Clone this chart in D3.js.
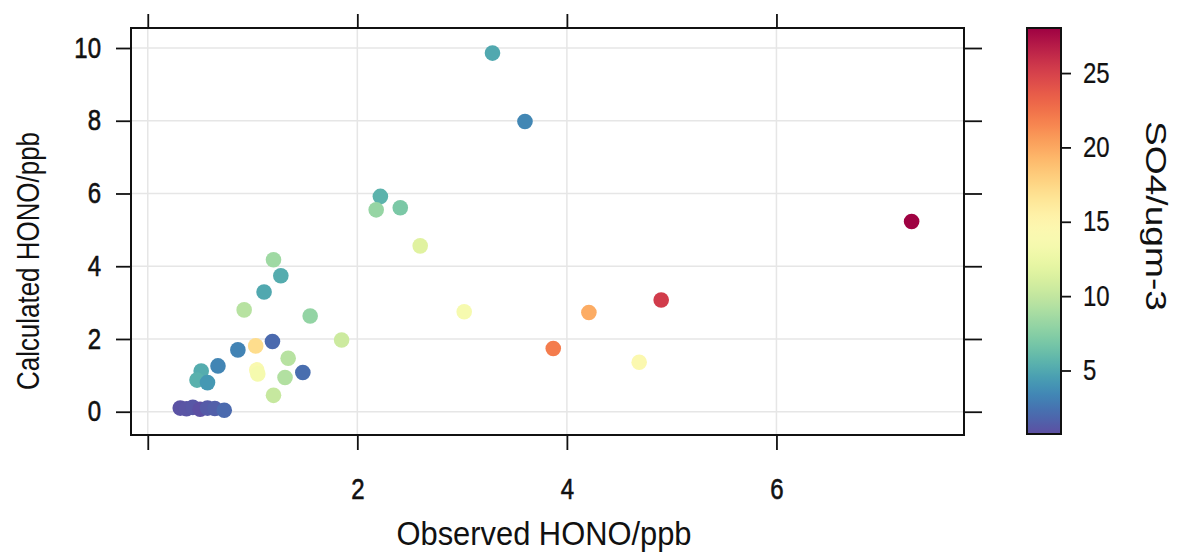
<!DOCTYPE html>
<html>
<head>
<meta charset="utf-8">
<script src="https://cdn.jsdelivr.net/npm/d3@7"></script>
<style>
  body { margin: 0; background: #fff; }
  text { font-family: "Liberation Sans", Arial, sans-serif; fill: #111; }
</style>
</head>
<body>
<main></main>
<script>
// observed vs calculated HONO, coloured by SO4
const obsHONO  = [3.29, 3.60, 2.22, 2.18, 2.41, 2.60, 7.29, 3.02, 4.21, 4.90, 3.87, 4.69, 1.85,
                  1.20, 1.27, 1.11, 0.92, 1.55, 1.19, 1.03, 0.86, 1.34, 0.67, 1.04, 1.05, 0.51,
                  1.48, 0.47, 0.57, 1.31, 1.20,
                  0.31, 0.37, 0.43, 0.50, 0.57, 0.64, 0.73];
const calcHONO = [9.86, 7.98, 5.92, 5.55, 5.61, 4.56, 5.23, 2.75, 2.73, 3.07, 1.74, 1.36, 1.97,
                  4.18, 3.74, 3.29, 2.80, 2.63, 1.93, 1.81, 1.70, 1.47, 1.26, 1.15, 1.04, 1.12,
                  1.08, 0.87, 0.80, 0.94, 0.45,
                  0.10, 0.08, 0.12, 0.07, 0.10, 0.09, 0.04];
const so4      = [5.0, 3.4, 5.6, 8.1, 7.0, 11.6, 28.0, 13.6, 19.8, 25.3, 22.0, 14.5, 10.5,
                  8.5, 5.2, 5.0, 9.5, 8.0, 2.0, 17.1, 3.2, 9.5, 3.3, 14.0, 13.5, 5.2,
                  2.2, 5.5, 4.2, 9.3, 10.2,
                  0.9, 1.0, 1.1, 0.8, 1.3, 1.5, 2.0];

const xTicks = [0, 2, 4, 6];
const yTicks = [0, 2, 4, 6, 8, 10];
const cTicks = [5, 10, 15, 20, 25];

const points = obsHONO.map((d, i) => ({ x: d, y: calcHONO[i], c: so4[i] }));

const svg = d3.select("main")
              .append("svg")
              .attr("width", 1179)
              .attr("height", 554);

// panel box
const pLeft = 131, pRight = 964, pTop = 28, pBottom = 435;

const x = d3.scaleLinear().domain([-0.16, 7.79]).range([pLeft, pRight]);
const y = d3.scaleLinear().domain([-0.64, 10.55]).range([pBottom, pTop]);
const cDomain = [0.73, 28.03];
const color = d3.scaleSequential(t => d3.interpolateSpectral(1 - t)).domain(cDomain);

// grid
const grid = svg.append("g").attr("stroke", "#e6e6e6").attr("stroke-width", 1.5);
grid.selectAll(".gx").data(xTicks).enter().append("line")
    .attr("x1", d => x(d)).attr("x2", d => x(d))
    .attr("y1", pTop).attr("y2", pBottom);
grid.selectAll(".gy").data(yTicks).enter().append("line")
    .attr("x1", pLeft).attr("x2", pRight)
    .attr("y1", d => y(d)).attr("y2", d => y(d));

// points
svg.append("g").selectAll("circle")
   .data(points)
   .enter().append("circle")
   .attr("cx", d => x(d.x))
   .attr("cy", d => y(d.y))
   .attr("r", 7.8)
   .attr("fill", d => color(d.c));

// axes - labels a bit taller and heavier, like the original
const styleAxis = (g) => {
  g.select(".domain").remove();
  g.selectAll(".tick line").attr("stroke", "#111").attr("stroke-width", 1.8);
  g.selectAll(".tick text")
   .style("font-size", "24px")
   .attr("fill", "#111")
   .attr("stroke", "#111").attr("stroke-width", 0.5)
   .attr("transform", "scale(1,1.2)");
};

svg.append("g").attr("transform", `translate(0,${pBottom})`)
   .call(d3.axisBottom(x).tickValues(xTicks).tickSize(15).tickPadding(21)
           .tickFormat(d => d === 0 ? "" : d))
   .call(styleAxis);

svg.append("g").attr("transform", `translate(0,${pTop})`)
   .call(d3.axisTop(x).tickValues(xTicks).tickSize(14).tickFormat(""))
   .call(styleAxis);

svg.append("g").attr("transform", `translate(${pLeft},0)`)
   .call(d3.axisLeft(y).tickValues(yTicks).tickSize(15).tickPadding(15))
   .call(styleAxis);

svg.append("g").attr("transform", `translate(${pRight},0)`)
   .call(d3.axisRight(y).tickValues(yTicks).tickSize(18).tickFormat(""))
   .call(styleAxis);

svg.append("rect")
   .attr("x", pLeft).attr("y", pTop)
   .attr("width", pRight - pLeft).attr("height", pBottom - pTop)
   .attr("fill", "none").attr("stroke", "#111").attr("stroke-width", 2);

// axis titles
svg.append("text")
   .attr("transform", "translate(544,545) scale(1,1.1)")
   .attr("text-anchor", "middle")
   .attr("textLength", 295).attr("lengthAdjust", "spacingAndGlyphs")
   .style("font-size", "30px")
   .text("Observed HONO/ppb");

svg.append("text")
   .attr("transform", "translate(39,261) rotate(-90)")
   .attr("text-anchor", "middle")
   .attr("textLength", 258).attr("lengthAdjust", "spacingAndGlyphs")
   .style("font-size", "31px")
   .text("Calculated HONO/ppb");

// colour key
const cbLeft = 1027, cbRight = 1061, cbTop = 28, cbBottom = 434;
const cy = d3.scaleLinear().domain(cDomain).range([cbBottom, cbTop]);

const grad = svg.append("defs").append("linearGradient")
   .attr("id", "so4grad")
   .attr("x1", 0).attr("y1", 1).attr("x2", 0).attr("y2", 0);
grad.selectAll("stop")
    .data(d3.range(0, 1.0001, 0.02))
    .enter().append("stop")
    .attr("offset", d => d)
    .attr("stop-color", d => color(cDomain[0] + d * (cDomain[1] - cDomain[0])));

svg.append("rect")
   .attr("x", cbLeft).attr("y", cbTop)
   .attr("width", cbRight - cbLeft).attr("height", cbBottom - cbTop)
   .attr("fill", "url(#so4grad)")
   .attr("stroke", "#111").attr("stroke-width", 2);

svg.append("g").attr("transform", `translate(${cbRight},0)`)
   .call(d3.axisRight(cy).tickValues(cTicks).tickSize(10).tickPadding(12))
   .call(styleAxis);
svg.selectAll("g").filter(function () { return this.getAttribute("transform") === `translate(${cbRight},0)`; })
   .selectAll(".tick text").attr("stroke-width", 0.2);

svg.append("text")
   .attr("transform", "translate(1146,216) rotate(90)")
   .attr("text-anchor", "middle")
   .attr("textLength", 190).attr("lengthAdjust", "spacingAndGlyphs")
   .style("font-size", "30px")
   .text("SO4/ugm-3");
</script>
</body>
</html>
